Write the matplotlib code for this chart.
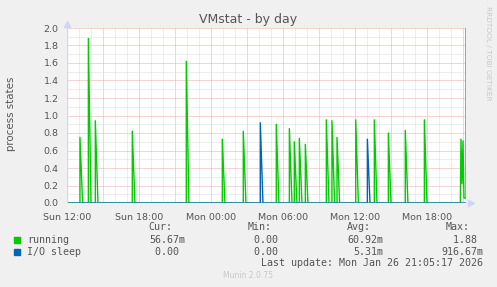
import numpy as np
import matplotlib.pyplot as plt

W, H = 497, 287  # output size in pixels

# spike times (hours after Sun 12:00) and heights
running_t = [1.08, 1.78, 2.36, 5.44, 9.94, 12.94, 14.69, 17.44, 18.53, 18.94,
             19.36, 19.86, 21.61, 22.08, 22.50, 24.06, 25.61, 26.78, 28.19, 29.78]
running_v = [0.75, 1.88, 0.94, 0.82, 1.62, 0.73, 0.82, 0.90, 0.85, 0.70,
             0.74, 0.67, 0.95, 0.94, 0.75, 0.95, 0.95, 0.80, 0.83, 0.95]
# last few samples before "now"
running_tail_t = [32.83, 32.92, 33.00, 33.08, 33.17]
running_tail_v = [0.73, 0.22, 0.71, 0.057, 0.057]

iosleep_t = [16.11, 25.03]
iosleep_v = [0.9167, 0.73]

tick_hours = [0, 6, 12, 18, 24, 30]
tick_labels = ['Sun 12:00', 'Sun 18:00', 'Mon 00:00', 'Mon 06:00', 'Mon 12:00', 'Mon 18:00']

legend_names = ['running', 'I/O sleep']
legend_colors = ['#00cc00', '#0066b3']
cur_vals = ['56.67m', '0.00 ']
min_vals = ['0.00 ', '0.00 ']
avg_vals = ['60.92m', '5.31m']
max_vals = ['1.88 ', '916.67m']

X_END = 33.25
FALL = 0.22  # how long a spike takes to fall back (hours)


def spikes(ts, vs, end):
    xs, ys = [0], [0]
    for t, v in zip(ts, vs):
        xs += [t, t, t + FALL]
        ys += [0, v, 0]
    xs.append(end)
    ys.append(0)
    return xs, ys


def fx(px):
    return px / W


def fy(py):
    return 1 - py / H


FONT = '#555555'
BG = '#f0f0f0'

fig = plt.figure(figsize=(W / 100, H / 100), dpi=100, facecolor=BG)
ax = fig.add_axes([fx(67), fy(203), 399 / W, 175 / H])
ax.set_facecolor('white')

# grid: minor gray dotted, major pinkish dotted
dots = (0, (1, 1))
GRID = '#dcdcdc'
MGRID = '#eeaaaa'
for h in np.arange(1, X_END, 1):
    c = MGRID if h % 3 == 0 else GRID
    ax.axvline(h, color=c, lw=0.72, ls=dots, zorder=1, snap=True)
for y in np.arange(0.1, 2.01, 0.1):
    c = MGRID if round(y * 10) % 2 == 0 else GRID
    ax.axhline(y, color=c, lw=0.72, ls=dots, zorder=1, snap=True)

# data
rx, ry = spikes(running_t, running_v, running_tail_t[0] - 0.05)
rx += running_tail_t
ry += running_tail_v
ax.plot(rx, ry, color=legend_colors[0], lw=1.0, zorder=3)
ix, iy = spikes(iosleep_t, iosleep_v, X_END)
ax.plot(ix, iy, color=legend_colors[1], lw=1.0, zorder=3)

ax.axvline(33.2, ymin=0.03, ymax=1, color='#a0a0a0', lw=0.7, zorder=2)

# axes lines and arrows
ax.axvline(0, color='#cfd6f8', lw=1.0, zorder=4)
ax.axhline(0, color='#98a8dc', lw=1.0, zorder=4)
ax.plot([0], [1 + 4 / 175], marker='^', ms=4.5, color='#cfd6f8',
        transform=ax.transAxes, clip_on=False, zorder=5)
ax.plot([1 + 5 / 399], [0], marker='>', ms=4.5, color='#cfd6f8',
        transform=ax.transAxes, clip_on=False, zorder=5)

ax.set_xlim(0, X_END)
ax.set_ylim(0, 2.0)
ax.set_xticks(tick_hours)
ax.set_xticklabels(tick_labels)
ax.set_yticks(np.round(np.arange(0, 2.01, 0.2), 1))
ax.set_yticklabels([f'{v:.1f}' for v in np.arange(0, 2.01, 0.2)])
ax.tick_params(length=0, labelsize=6.8, colors=FONT, pad=7)
ax.tick_params(axis='y', pad=6)
for s in ax.spines.values():
    s.set_visible(False)

fig.text(fx(11), fy(114), 'process states', rotation=90, ha='center',
         va='center', fontsize=7.4, color=FONT)
fig.text(fx(248), fy(19), 'VMstat - by day', ha='center', va='center',
         fontsize=9, color=FONT)
fig.text(fx(488), fy(53), 'RRDTOOL / TOBI OETIKER', rotation=270,
         ha='center', va='center', fontsize=5.3, color='#c8c8c8')

# legend block, monospace like rrdtool
mono = dict(family='DejaVu Sans Mono', fontsize=7.2, color=FONT, va='center')
for txt, right in zip(['Cur:', 'Min:', 'Avg:', 'Max:'], [172, 272, 371, 470]):
    fig.text(fx(right), fy(227), txt, ha='right', **mono)
rows_y = [240, 252]
for i in range(2):
    y = rows_y[i]
    fig.patches.append(plt.Rectangle((fx(14), fy(y + 3)), 6 / W, 6 / H,
                                     transform=fig.transFigure,
                                     color=legend_colors[i], figure=fig))
    fig.text(fx(27), fy(y), legend_names[i], ha='left', **mono)
    fig.text(fx(185), fy(y), cur_vals[i], ha='right', **mono)
    fig.text(fx(284), fy(y), min_vals[i], ha='right', **mono)
    fig.text(fx(383), fy(y), avg_vals[i], ha='right', **mono)
    fig.text(fx(483), fy(y), max_vals[i], ha='right', **mono)
fig.text(fx(483), fy(263), 'Last update: Mon Jan 26 21:05:17 2026', ha='right', **mono)
fig.text(fx(248), fy(276), 'Munin 2.0.75', ha='center', va='center',
         fontsize=5.5, color='#c8c8c8')

fig.savefig('out.png', dpi=100, facecolor=BG)
